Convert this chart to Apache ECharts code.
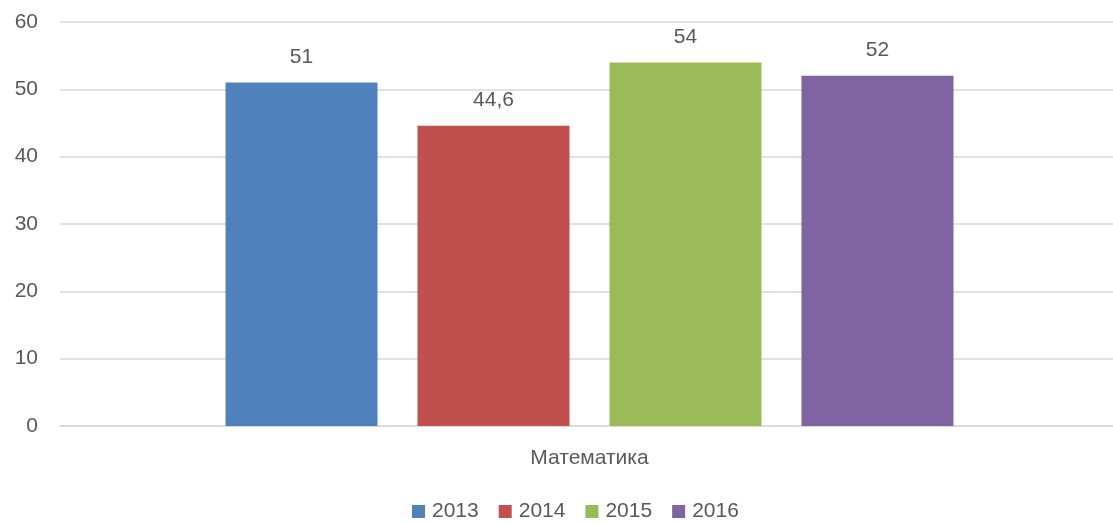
<!DOCTYPE html>
<html>
<head>
<meta charset="utf-8">
<script src="https://cdn.jsdelivr.net/npm/echarts@6/dist/echarts.min.js"></script>
<style>html,body{margin:0;padding:0;background:#fff}#c{width:1113px;height:524px}</style>
</head>
<body>
<div id="c"></div>
<script>
const categories = ['Математика'];
const seriesNames = ['2013', '2014', '2015', '2016'];
const values2013 = [51];
const values2014 = [44.6];
const values2015 = [54];
const values2016 = [52];
const yTicks = [0, 10, 20, 30, 40, 50, 60];

const colors = ['#4F81BD', '#C0504D', '#9BBB59', '#8064A2'];
const allValues = [values2013, values2014, values2015, values2016];
const FONT = 'Liberation Sans';
const TXT = '#595959';
const yMin = yTicks[0], yMax = yTicks[yTicks.length - 1];

const chart = echarts.init(document.getElementById('c'), null, {renderer: 'canvas'});
chart.setOption({
  animation: false,
  textStyle: {fontFamily: FONT},
  grid: [
    {left: 60, top: 22, right: 0, bottom: 98, containLabel: false},
    {left: 66, top: 22, right: 0, bottom: 98, containLabel: false}
  ],
  legend: {
    data: seriesNames,
    top: 501,
    left: 412,
    padding: 0,
    itemWidth: 13,
    itemHeight: 13,
    itemGap: 20,
    icon: 'rect',
    textStyle: {color: TXT, fontSize: 21, fontFamily: FONT, padding: [0, 0, 0, 2]}
  },
  xAxis: [
    {
      gridIndex: 0,
      type: 'category',
      data: categories,
      axisLine: {show: true, lineStyle: {color: '#D9D9D9', width: 1.5}},
      axisTick: {show: false},
      axisLabel: {show: false}
    },
    {
      gridIndex: 1,
      type: 'category',
      data: categories,
      axisLine: {show: false},
      axisTick: {show: false},
      axisLabel: {color: TXT, fontSize: 21, fontFamily: FONT, margin: 22}
    }
  ],
  yAxis: [
    {
      gridIndex: 0,
      type: 'value',
      min: yMin,
      max: yMax,
      interval: 10,
      axisLine: {show: false},
      axisTick: {show: false},
      splitLine: {lineStyle: {color: '#D9D9D9', width: 1.5}},
      axisLabel: {color: TXT, fontSize: 21, fontFamily: FONT, margin: 22}
    },
    {
      gridIndex: 1,
      type: 'value',
      min: yMin,
      max: yMax,
      interval: 10,
      axisLine: {show: false},
      axisTick: {show: false},
      splitLine: {show: false},
      axisLabel: {show: false}
    }
  ],
  series: seriesNames.map((name, i) => ({
    name: name,
    type: 'bar',
    xAxisIndex: 1,
    yAxisIndex: 1,
    data: allValues[i],
    barWidth: 152,
    barGap: '26.3%',
    itemStyle: {color: colors[i]},
    label: {
      show: true,
      position: 'top',
      distance: 15,
      color: TXT,
      fontSize: 21,
      fontFamily: FONT,
      formatter: p => String(p.value).replace('.', ',')
    }
  }))
});
</script>
</body>
</html>
